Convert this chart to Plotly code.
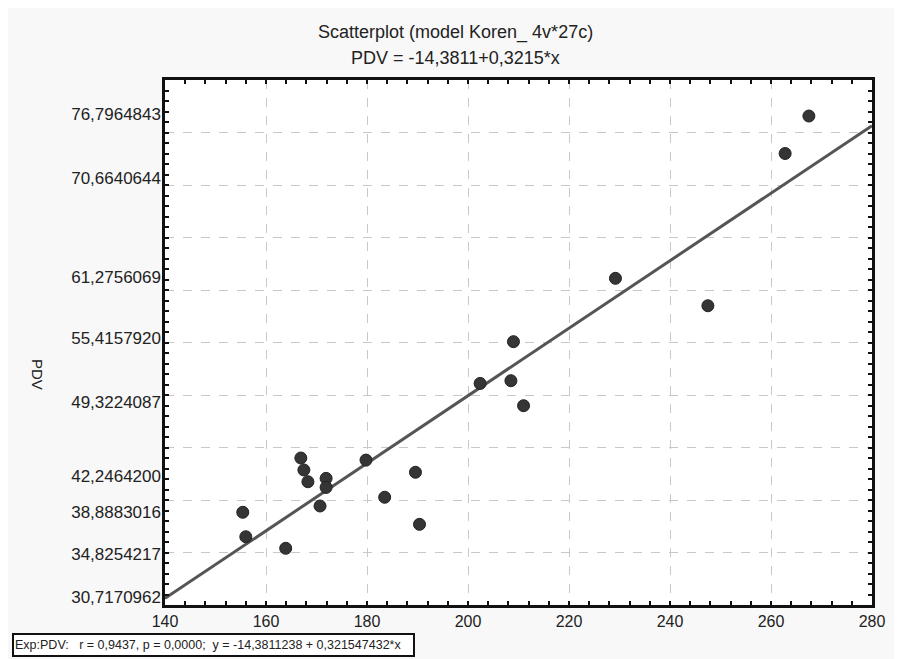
import plotly.graph_objects as go

# Data
x_vals = [155.4, 156.0, 163.9, 166.9, 167.5, 168.3, 170.7, 171.9, 171.9, 179.8,
          183.5, 189.6, 190.4, 202.4, 208.5, 209.0, 211.0, 229.2, 247.5, 262.8, 267.5]
y_vals = [38.83, 36.5, 35.4, 44.0, 42.86, 41.74, 39.43, 42.06, 41.2, 43.8,
          40.26, 42.64, 37.68, 51.1, 51.36, 55.08, 48.98, 61.11, 58.5, 73.0, 76.57]

intercept = -14.3811238
slope = 0.321547432
x_range = [140, 280]
y_range = [30, 80]

y_tick_vals = [30.7170962, 34.8254217, 38.8883016, 42.2464200, 49.3224087,
               55.4157920, 61.2756069, 70.6640644, 76.7964843]
y_tick_text = ["30,7170962", "34,8254217", "38,8883016", "42,2464200", "49,3224087",
               "55,4157920", "61,2756069", "70,6640644", "76,7964843"]
x_tick_vals = [140, 160, 180, 200, 220, 240, 260, 280]

title1 = "Scatterplot (model Koren_ 4v*27c)"
title2 = "PDV = -14,3811+0,3215*x"
legend_text = "Exp:PDV:   r = 0,9437, p = 0,0000;  y = -14,3811238 + 0,321547432*x"

line_x = x_range
line_y = [intercept + slope * v for v in line_x]

SANS = "Liberation Sans, Arial, sans-serif"

# page offset (body margin) and figure geometry, in window pixels
OFF = 8
W, H = 902 - OFF, 659 - OFF
L, R, T, B = 165 - OFF, 30, 80 - OFF, 54
pw, ph = W - L - R, H - T - B


def px(xw):
    return (xw - OFF - L) / pw


def py(yw):
    return 1 - (yw - OFF - T) / ph


fig = go.Figure()
fig.add_trace(go.Scatter(x=line_x, y=line_y, mode="lines",
                         line=dict(color="#555555", width=3), hoverinfo="skip",
                         showlegend=False))
fig.add_trace(go.Scatter(x=x_vals, y=y_vals, mode="markers",
                         marker=dict(size=12, color="#353535",
                                     line=dict(color="#222222", width=1)),
                         showlegend=False))
fig.add_trace(go.Scatter(x=[x_range[0]], y=[y_range[0]], mode="markers",
                         marker=dict(opacity=0), xaxis="x", yaxis="y2",
                         showlegend=False, hoverinfo="skip"))

fig.update_layout(
    width=W, height=H,
    margin=dict(l=L, r=R, t=T, b=B),
    paper_bgcolor="#f8f8f8",
    plot_bgcolor="white",
    xaxis=dict(range=x_range, tickvals=x_tick_vals,
               showgrid=True, gridcolor="#c8c8c8", griddash="dash", gridwidth=1,
               zeroline=False,
               showline=True, linecolor="#111111", linewidth=3, mirror="ticks",
               ticks="inside", ticklen=4, tickwidth=2, tickcolor="#111111",
               minor=dict(dtick=4, ticks="inside", ticklen=4, tickwidth=2,
                          tickcolor="#111111", showgrid=False),
               tickfont=dict(family=SANS, size=16, color="#222222"),
               ticklabelstandoff=0),
    yaxis=dict(range=y_range, dtick=5, tick0=0,
               showgrid=True, gridcolor="#c8c8c8", griddash="dash", gridwidth=1,
               zeroline=False, showticklabels=False,
               showline=True, linecolor="#111111", linewidth=3, mirror="ticks",
               ticks="inside", ticklen=4, tickwidth=2, tickcolor="#111111",
               minor=dict(dtick=1, ticks="inside", ticklen=4, tickwidth=2,
                          tickcolor="#111111", showgrid=False)),
    yaxis2=dict(range=y_range, overlaying="y", side="left",
                tickvals=y_tick_vals, ticktext=y_tick_text,
                showgrid=False, zeroline=False, ticks="", showline=False,
                tickfont=dict(family=SANS, size=17, color="#222222"),
                ticklabelstandoff=3),
    annotations=[
        dict(text=title1, x=px(455), y=py(33), xref="paper", yref="paper",
             showarrow=False, xanchor="center", yanchor="middle",
             font=dict(family=SANS, size=18, color="#222222")),
        dict(text=title2, x=px(455), y=py(58), xref="paper", yref="paper",
             showarrow=False, xanchor="center", yanchor="middle",
             font=dict(family=SANS, size=18, color="#222222")),
        dict(text="PDV", textangle=90, x=px(38), y=py(375), xref="paper", yref="paper",
             showarrow=False, xanchor="center", yanchor="middle",
             font=dict(family=SANS, size=15, color="#222222")),
        dict(text=legend_text, x=px(12), y=py(644.5), xref="paper", yref="paper",
             showarrow=False, xanchor="left", yanchor="middle", align="left",
             width=397, height=18,
             bordercolor="#111111", borderwidth=2, borderpad=1, bgcolor="white",
             font=dict(family=SANS, size=12.5, color="#222222")),
    ],
)

fig.write_html("out.html")
